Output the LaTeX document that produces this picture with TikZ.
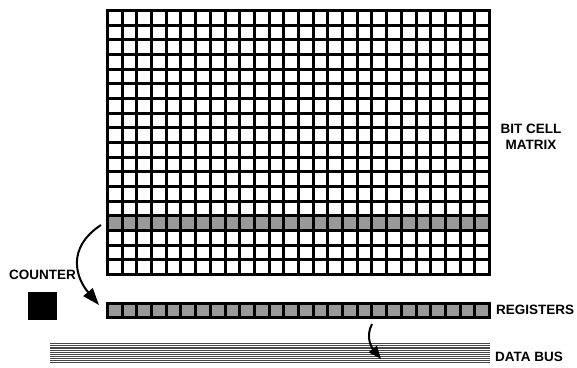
\documentclass[tikz,border=0pt]{standalone}
\usepackage{fontspec}
\setmainfont{Liberation Sans}
\usetikzlibrary{arrows.meta}
\begin{document}
\begin{tikzpicture}[x=1pt,y=-1pt,
  gridline/.style={line width=2.6pt,line cap=rect},
  lbl/.style={font=\fontsize{13.5}{16.5}\selectfont\bfseries,inner sep=0pt,align=center},
  bigarrow/.style={line width=2pt,-{Triangle[length=17pt,width=12pt]}},
  smallarrow/.style={line width=2pt,-{Triangle[length=13pt,width=10pt]}}]
\useasboundingbox (0,0) rectangle (577,367);
% shaded row in matrix
\fill[black!40] (107,216) rectangle (489,230);
% matrix grid
\foreach \i in {0,...,26}
  \draw[gridline] ({107.5+round(\i*14.6923)},10.5) -- ({107.5+round(\i*14.6923)},274.5);
\foreach \j in {0,...,18}
  \draw[gridline] (107.5,{10.5+round(\j*14.6667)}) -- (489.5,{10.5+round(\j*14.6667)});
\coordinate (rowout) at (101,225);
% registers
\fill[black!40] (107,303) rectangle (489,317);
\foreach \i in {0,...,26}
  \draw[gridline] ({107.5+round(\i*14.6923)},303.5) -- ({107.5+round(\i*14.6923)},317.5);
\draw[gridline] (107.5,303.5) -- (489.5,303.5);
\draw[gridline] (107.5,317.5) -- (489.5,317.5);
\coordinate (regin) at (99,305);
\coordinate (regout) at (372,324);
% data bus
\fill[black!72] (50,343) rectangle (490,364);
\foreach \k in {0,...,9}
  \draw[white,line width=0.3pt] (50,{344.5+\k*2.1}) -- (490,{344.5+\k*2.1});
\coordinate (busin) at (381,359);
% counter
\node[fill=black,minimum width=29pt,minimum height=28pt,inner sep=0pt] (counter) at (42.5,306) {};
% labels
\node[lbl] (bitcell) at (531,137) {BIT CELL\\MATRIX};
\node[lbl,anchor=west] (counterlbl) at (9,275) {COUNTER};
\node[lbl,anchor=west] (reglbl) at (496,310) {REGISTERS};
\node[lbl,anchor=west] (buslbl) at (495,357) {DATA BUS};
% arrows
\draw[bigarrow] (rowout) .. controls (66,248) and (76,278) .. (regin);
\draw[smallarrow] (regout) .. controls (365,337) and (372,348) .. (busin);
\end{tikzpicture}
\end{document}
